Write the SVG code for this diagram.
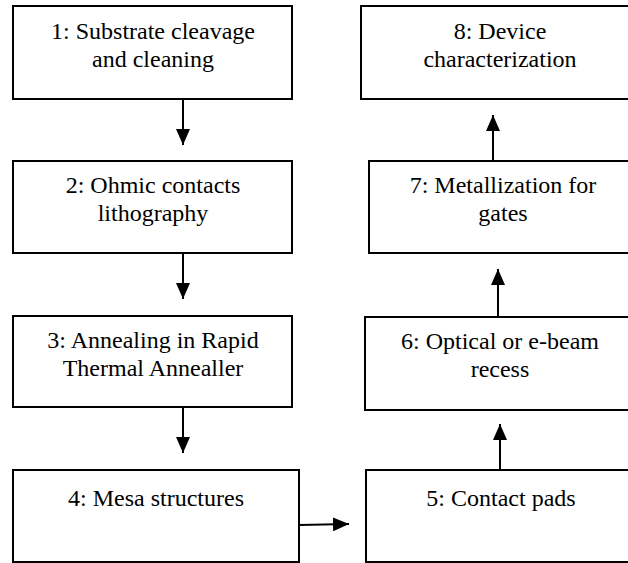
<svg xmlns="http://www.w3.org/2000/svg" width="628" height="563" viewBox="0 0 628 563">
<style>
.box{fill:#fff;stroke:#000;stroke-width:2}
.t{font-family:'Liberation Serif','Times New Roman',Times,'DejaVu Serif',serif;font-size:24px;fill:#000;text-anchor:middle}
.c{stroke:#000;stroke-width:2;fill:none;marker-end:url(#ah)}
</style>
<defs>
<marker id="ah" viewBox="0 0 16 14" refX="16" refY="7" markerWidth="16" markerHeight="14" orient="auto" markerUnits="userSpaceOnUse">
<path d="M0,0 L16,7 L0,14 z" fill="#000"/>
</marker>
</defs>
<rect width="628" height="563" fill="#fff"/>
<g font-family="Liberation Serif, Times New Roman, serif">
<g id="n1"><rect class="box" x="13" y="6" width="279" height="93"/><text class="t" x="153" y="39">1: Substrate cleavage</text><text class="t" x="153" y="67">and cleaning</text></g>
<g id="n2"><rect class="box" x="13" y="161" width="279" height="92"/><text class="t" x="153" y="193">2: Ohmic contacts</text><text class="t" x="153" y="221">lithography</text></g>
<g id="n3"><rect class="box" x="13" y="316" width="279" height="91"/><text class="t" x="153" y="348">3: Annealing in Rapid</text><text class="t" x="153" y="376">Thermal Annealler</text></g>
<g id="n4"><rect class="box" x="13" y="470" width="286" height="92"/><text class="t" x="156" y="506">4: Mesa structures</text></g>
<g id="n5"><rect class="box" x="366" y="470" width="270" height="92"/><text class="t" x="501" y="506">5: Contact pads</text></g>
<g id="n6"><rect class="box" x="365" y="317" width="270" height="93"/><text class="t" x="500" y="349">6: Optical or e-beam</text><text class="t" x="500" y="377">recess</text></g>
<g id="n7"><rect class="box" x="369" y="161" width="270" height="92"/><text class="t" x="503" y="193">7: Metallization for</text><text class="t" x="503" y="221">gates</text></g>
<g id="n8"><rect class="box" x="361" y="6" width="278" height="93"/><text class="t" x="500" y="39">8: Device</text><text class="t" x="500" y="67">characterization</text></g>
</g>
<g id="connectors">
<line class="c" x1="183" y1="99" x2="183" y2="145"/>
<line class="c" x1="183" y1="253" x2="183" y2="299"/>
<line class="c" x1="183" y1="407" x2="183" y2="453"/>
<line class="c" x1="299" y1="525" x2="349" y2="524"/>
<line class="c" x1="500" y1="470" x2="500" y2="424"/>
<line class="c" x1="498" y1="317" x2="498" y2="269"/>
<line class="c" x1="493" y1="161" x2="493" y2="115"/>
</g>
</svg>
